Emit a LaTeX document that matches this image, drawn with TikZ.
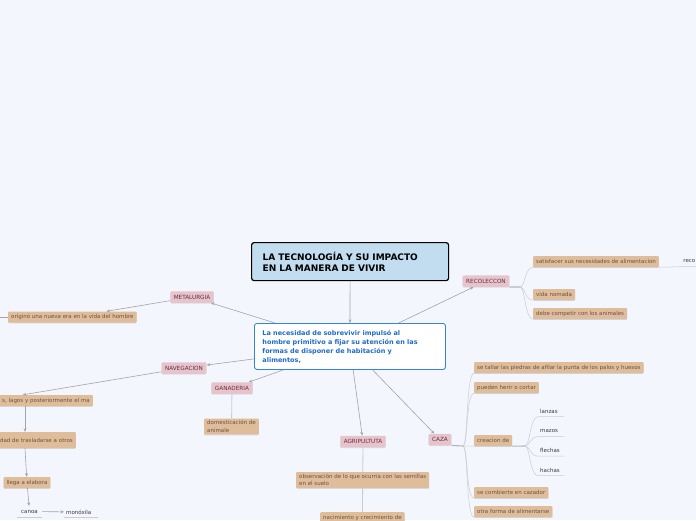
\documentclass[tikz,border=0pt]{standalone}
\usepackage{fontspec}
\setmainfont{DejaVu Sans}
\usetikzlibrary{arrows.meta,shadows}
\definecolor{bgc}{HTML}{F3F6FD}
\definecolor{titlefill}{HTML}{C3DDF0}
\definecolor{cenborder}{HTML}{3583DA}
\definecolor{centext}{HTML}{1F6ACB}
\definecolor{pinkfill}{HTML}{E6C4CB}
\definecolor{pinktext}{HTML}{6E2B3D}
\definecolor{tanfill}{HTML}{DFBC9A}
\definecolor{tantext}{HTML}{6A5440}
\definecolor{plaintext}{HTML}{3A3A3A}
\definecolor{linegray}{HTML}{A2A4A8}
\definecolor{branchgray}{HTML}{C9CCD4}
\newcommand\smallf{\fontsize{5.5}{7.5}\selectfont}
\newcommand\catf{\fontsize{5.7}{7}\selectfont}
\begin{document}
\begin{tikzpicture}[x=1pt,y=-1pt,
  conn/.style={draw=linegray, line width=0.6pt},
  arr/.style={conn, -{Stealth[length=3.5pt,width=3pt]}},
  branch/.style={draw=branchgray, line width=0.5pt},
  hubline/.style={draw=linegray!80, line width=1.1pt},
  cat/.style={fill=pinkfill, text=pinktext, font=\catf, inner xsep=3.5pt, inner ysep=0pt,
    minimum height=11.5pt, rounded corners=1pt,
    drop shadow={shadow xshift=0pt,shadow yshift=-0.8pt,opacity=0.2}},
  leaf/.style={fill=tanfill, text=tantext, font=\smallf, inner xsep=3pt, inner ysep=2pt,
    minimum height=11pt, rounded corners=1pt,
    drop shadow={shadow xshift=0pt,shadow yshift=-0.8pt,opacity=0.25}},
  plain/.style={text=plaintext, font=\smallf, inner xsep=2pt, inner ysep=0pt, minimum height=11pt}
]
\useasboundingbox (0,0) rectangle (696,520);
\clip (0,0) rectangle (696,520);
\fill[bgc] (0,0) rectangle (696,520);

% title and central nodes
\node[draw=black, line width=1.2pt, fill=titlefill, rounded corners=2.5pt, anchor=north west,
  text width=175pt, inner xsep=11pt, minimum height=38pt, align=left,
  font=\fontsize{9}{11}\selectfont\bfseries] (T) at (251,242)
  {LA TECNOLOGÍA Y SU IMPACTO\\EN LA MANERA DE VIVIR};
\node[draw=cenborder, line width=0.9pt, fill=white, rounded corners=2.5pt, anchor=north west,
  text width=175pt, inner xsep=8pt, minimum height=46pt, align=left, text=centext,
  font=\fontsize{6.5}{9}\selectfont\bfseries] (C) at (254,323)
  {La necesidad de sobrevivir impulsó al\\hombre primitivo a fijar su atención en las\\formas de disponer de habitación y\\alimentos,};

% category nodes
\node[cat] (MET) at (192,297) {METALURGIA};
\node[cat] (NAV) at (184,368) {NAVEGACION};
\node[cat] (GAN) at (232,388) {GANADERIA};
\node[cat] (AGRI) at (363,441.5) {AGRIPULTUTA};
\node[cat] (CAZA) at (440,439.5) {CAZA};
\node[cat] (RECO) at (486,281) {RECOLECCON};

% leaf nodes
\node[leaf, anchor=west] (ORIG) at (8,317) {originó una nueva era en la vida del hombre};
\node[leaf, anchor=east, text width=130pt, align=right] (LAG) at (93,400.5) {s, lagos y posteriormente el ma};
\node[leaf, anchor=east, text width=97pt, align=right, minimum height=16pt] (DAD) at (76,440) {dad de trasladarse a otros};
\node[leaf] (LLEGA) at (27,482.5) {llega a elabora};
\node[leaf, anchor=west, align=left] (DOM) at (204,426.5) {domesticación de\\animale};
\node[leaf, anchor=west, align=left] (OBS) at (296,480) {observación de lo que ocurría con las semillas\\en el suelo};
\node[leaf, anchor=north west] (NAC) at (320,512) {nacimiento y crecimiento de};
\node[leaf, anchor=west] (SAT) at (533,261.5) {satisfacer sus necesidades de alimentacion};
\node[leaf, anchor=west] (VIDA) at (533,294.5) {vida nomada};
\node[leaf, anchor=west] (DEBE) at (533,313.5) {debe competir con los animales};
\node[leaf, anchor=west] (TALL) at (474,367.5) {se tallar las piedras de afilar la punta de los palos y huesos};
\node[leaf, anchor=west] (HER) at (474,387.5) {pueden herir o cortar};
\node[leaf, anchor=west] (CRE) at (474,440.5) {creacion de};
\node[leaf, anchor=west] (COMB) at (474,492.5) {se combierte en cazador};
\node[leaf, anchor=west] (OTRA) at (474,511.5) {otra forma de alimentarse};

% plain nodes
\node[plain, anchor=west] (LAN) at (538,411) {lanzas};
\node[plain, anchor=west] (MAZ) at (538,431) {mazos};
\node[plain, anchor=west] (FLE) at (538,450.5) {flechas};
\node[plain, anchor=west] (HACH) at (538,470) {hachas};
\node[plain, inner xsep=4pt] (CANOA) at (29.5,511.5) {canoa};
\node[plain, anchor=west, inner xsep=2pt] (MONO) at (64,512) {monóxila};
\node[plain, anchor=east, inner xsep=0.5pt] (RECO2) at (696,261) {reco};

% main connectors
\draw[arr] (T) -- (C);
\draw[arr] (C) -- (MET);
\draw[arr] (C) -- (NAV);
\draw[arr] (C) -- (GAN);
\draw[arr] (C) -- (AGRI);
\draw[arr] (C) -- (CAZA);
\draw[arr] (C) -- (RECO);
\draw[arr] (MET) -- (ORIG);
\coordinate (offL) at (-5,317);
\draw[conn] (ORIG.west) -- (offL);
\draw[arr] (NAV) -- (LAG.110);
\draw[arr] (LAG.south -| 25,0) -- (DAD.north -| 25,0);
\draw[arr] (DAD.south -| 25,0) -- (LLEGA);
\draw[arr] (LLEGA) -- (CANOA);
\draw[arr] (CANOA) -- (MONO);
\draw[branch] (CANOA.south west) -- (CANOA.south east);
\draw[branch] (MONO.south west) -- ++(34,0);
\draw[conn, draw=branchgray, line width=0.8pt] (GAN) -- (DOM);
\draw[conn, draw=branchgray, line width=0.8pt] (AGRI) -- (OBS);
\draw[conn, draw=branchgray, line width=0.8pt] (OBS) -- (NAC);

% recoleccion branches
\coordinate (rh) at (520,287);
\draw[hubline] (RECO.south east) -- (rh);
\foreach \n in {SAT,VIDA,DEBE}
  \draw[branch] (rh) .. controls +(5,0) and +(-8,0) .. (\n.south west) -- (\n.south east);
\draw[branch] (SAT.south east) .. controls +(12,0) and +(-8,0) .. (RECO2.south west) -- (RECO2.south east);

% caza branches
\coordinate (ch) at (463,446);
\draw[hubline] (CAZA.south east) -- (ch);
\foreach \n in {TALL,HER,CRE,COMB,OTRA}
  \draw[branch] (ch) .. controls +(5,0) and +(-8,0) .. (\n.south west) -- (\n.south east);

% creacion de branches
\coordinate (crh) at (525,446);
\draw[hubline] (CRE.south east) -- (crh);
\foreach \n in {LAN,MAZ,FLE,HACH}
  \draw[branch] (crh) .. controls +(5,0) and +(-8,0) .. (\n.south west) -- ++(26,0);
\end{tikzpicture}
\end{document}
